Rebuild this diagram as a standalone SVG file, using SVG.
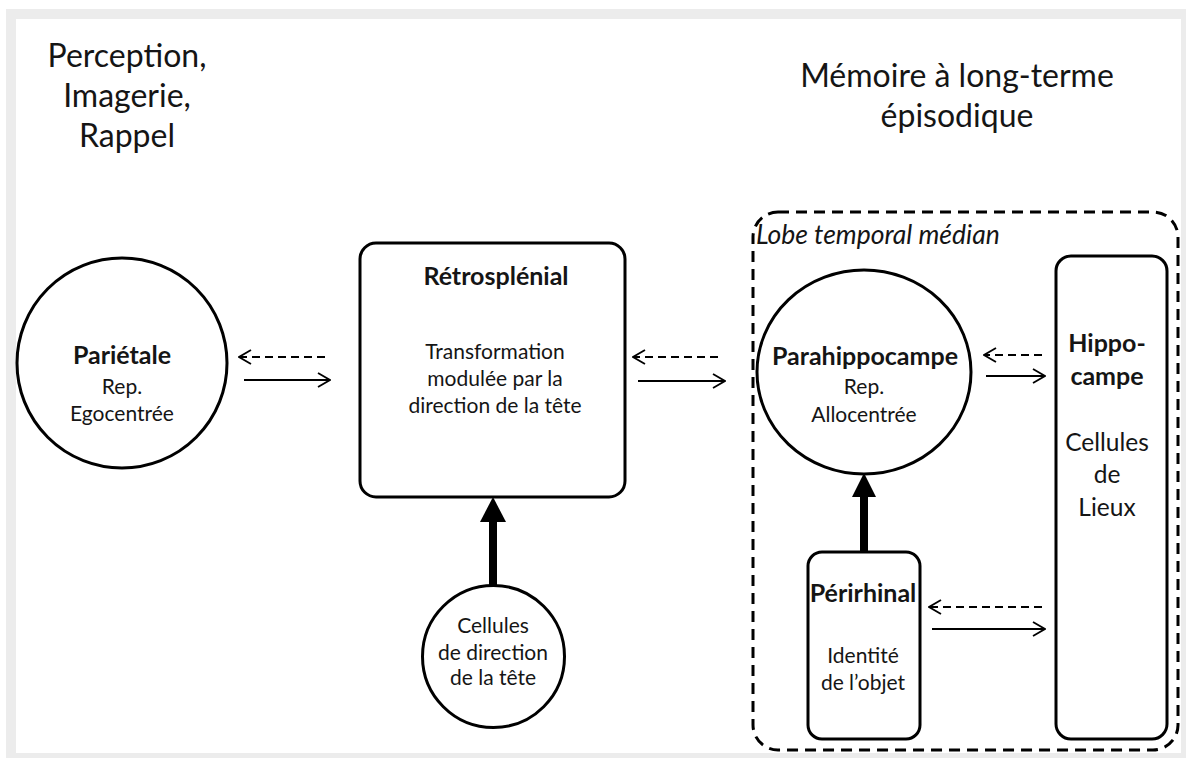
<svg xmlns="http://www.w3.org/2000/svg" width="1186" height="758" viewBox="0 0 1186 758">
<defs>
<style>
.t{font-family:Lato,"Open Sans","DejaVu Sans",sans-serif;fill:#151515;text-anchor:middle}
.h{font-size:32px}
.b{font-size:25px;font-weight:bold}
.r{font-size:21px}
.rl{font-size:24.5px}
.node{fill:#fff;stroke:#000;stroke-width:3}
.thin{stroke:#000;stroke-width:1.8;fill:none}
.dash{stroke-dasharray:8 5}
</style>
<marker id="open" viewBox="0 0 14 16" refX="13" refY="8" markerWidth="14" markerHeight="16" markerUnits="userSpaceOnUse" orient="auto">
<path d="M1,1 L13,8 L1,15" fill="none" stroke="#000" stroke-width="1.8"/>
</marker>
</defs>
<rect x="0" y="0" width="1186" height="758" fill="#fff"/>
<rect x="6" y="9" width="1180" height="749" fill="#ececec"/>
<rect x="16" y="19" width="1165" height="734" fill="#fff"/>

<g id="heading-left">
<text class="t h" x="127" y="67">Perception,</text>
<text class="t h" x="127" y="107">Imagerie,</text>
<text class="t h" x="127" y="147">Rappel</text>
</g>
<g id="heading-right">
<text class="t h" x="957" y="87">Mémoire à long-terme</text>
<text class="t h" x="957" y="127">épisodique</text>
</g>

<g id="lobe-temporal-median">
<rect x="753" y="212" width="425" height="538" rx="25" fill="none" stroke="#000" stroke-width="3" stroke-dasharray="11 7"/>
<text class="t" x="756" y="244" style="font-size:26.5px;font-style:italic;text-anchor:start">Lobe temporal médian</text>
</g>

<g id="parietale">
<circle class="node" cx="122" cy="363" r="105"/>
<text class="t b" x="122" y="364">Pariétale</text>
<text class="t r" x="122" y="394">Rep.</text>
<text class="t r" x="122" y="421">Egocentrée</text>
</g>

<g id="retrosplenial">
<rect class="node" x="360" y="243" width="265" height="254" rx="16"/>
<text class="t b" x="496" y="285">Rétrosplénial</text>
<text class="t r" x="495" y="359">Transformation</text>
<text class="t r" x="495" y="386">modulée par la</text>
<text class="t r" x="495" y="413">direction de la tête</text>
</g>

<g id="cellules-direction">
<circle class="node" cx="493.5" cy="656.5" r="71"/>
<text class="t r" x="493" y="633">Cellules</text>
<text class="t r" x="493" y="660">de direction</text>
<text class="t r" x="493" y="685">de la tête</text>
</g>

<g id="parahippocampe">
<ellipse class="node" cx="864" cy="372" rx="107" ry="102"/>
<text class="t b" x="865" y="365">Parahippocampe</text>
<text class="t r" x="864" y="394">Rep.</text>
<text class="t r" x="864" y="422">Allocentrée</text>
</g>

<g id="hippocampe">
<rect class="node" x="1056" y="256" width="111" height="483" rx="15"/>
<text class="t b" x="1107" y="352">Hippo-</text>
<text class="t b" x="1107" y="385">campe</text>
<text class="t rl" x="1107" y="451">Cellules</text>
<text class="t rl" x="1107" y="483">de</text>
<text class="t rl" x="1107" y="516">Lieux</text>
</g>

<g id="perirhinal">
<rect class="node" x="808" y="552" width="112" height="187" rx="14"/>
<text class="t b" x="863" y="602">Périrhinal</text>
<text class="t r" x="863" y="663">Identité</text>
<text class="t r" x="863" y="690">de l’objet</text>
</g>

<g id="connectors">
<line class="thin dash" x1="325" y1="357" x2="239" y2="357" marker-end="url(#open)"/>
<line class="thin" x1="244" y1="380" x2="330" y2="380" marker-end="url(#open)"/>
<line class="thin dash" x1="718" y1="357" x2="633" y2="357" marker-end="url(#open)"/>
<line class="thin" x1="638" y1="381" x2="725" y2="381" marker-end="url(#open)"/>
<line class="thin dash" x1="1042" y1="355" x2="984" y2="355" marker-end="url(#open)"/>
<line class="thin" x1="986" y1="376" x2="1045" y2="376" marker-end="url(#open)"/>
<line class="thin dash" x1="1042" y1="607" x2="929" y2="607" marker-end="url(#open)"/>
<line class="thin" x1="932" y1="629" x2="1045" y2="629" marker-end="url(#open)"/>
<line x1="493" y1="586" x2="493" y2="518" stroke="#000" stroke-width="8"/>
<polygon points="493,497 506,522 480,522" fill="#000"/>
<line x1="864" y1="551" x2="864" y2="493" stroke="#000" stroke-width="8"/>
<polygon points="864,473 876,497 852,497" fill="#000"/>
</g>
</svg>
